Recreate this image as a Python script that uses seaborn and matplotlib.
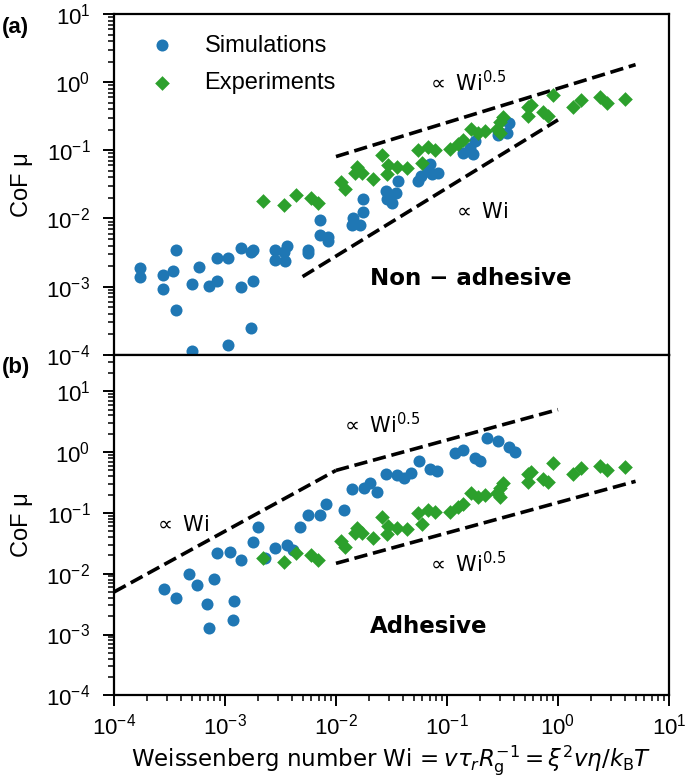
import numpy as np
import pandas as pd
import seaborn as sns
import matplotlib.pyplot as plt

# Simulations, non-adhesive (panel a)
sim_na_wi = [1.7e-4, 1.7e-4, 2.75e-4, 3.4e-4, 2.75e-4, 3.6e-4, 3.6e-4, 5.0e-4, 5.8e-4, 5.0e-4,
             7.2e-4, 8.5e-4, 8.5e-4, 1.07e-3, 1.07e-3, 1.38e-3, 1.38e-3, 1.7e-3, 1.8e-3, 1.8e-3,
             1.7e-3, 2.8e-3, 2.8e-3, 3.5e-3, 3.6e-3, 3.4e-3, 5.6e-3, 5.6e-3, 7.2e-3, 7.2e-3,
             8.5e-3, 8.5e-3, 0.0142, 0.0164, 0.014, 0.0175, 0.0175, 0.029, 0.032, 0.028,
             0.035, 0.036, 0.055, 0.058, 0.071, 0.074, 0.083, 0.068, 0.14, 0.17,
             0.18, 0.16, 0.29, 0.35, 0.36, 0.29]
sim_na_mu = [1.9e-3, 1.4e-3, 1.5e-3, 1.7e-3, 9.1e-4, 3.5e-3, 4.5e-4, 1.1e-3, 1.95e-3, 1.15e-4,
             1.02e-3, 1.2e-3, 2.6e-3, 2.6e-3, 1.4e-4, 3.7e-3, 9.8e-4, 3.2e-3, 3.5e-3, 1.2e-3,
             2.5e-4, 3.5e-3, 2.45e-3, 2.35e-3, 4.0e-3, 3.2e-3, 3.5e-3, 3.1e-3, 9.5e-3, 5.8e-3,
             5.4e-3, 4.6e-3, 0.010, 8.1e-3, 8.1e-3, 0.0126, 0.019, 0.0195, 0.0166, 0.025,
             0.0234, 0.035, 0.035, 0.042, 0.063, 0.045, 0.046, 0.049, 0.091, 0.087,
             0.138, 0.107, 0.19, 0.18, 0.25, 0.17]

# Simulations, adhesive (panel b)
sim_ad_wi = [2.8e-4, 3.6e-4, 4.7e-4, 5.6e-4, 7.9e-4, 6.9e-4, 7.2e-4, 1.2e-3, 1.17e-3, 8.5e-4,
             1.1e-3, 1.4e-3, 1.8e-3, 2.0e-3, 2.3e-3, 2.8e-3, 3.6e-3, 4.1e-3, 4.7e-3, 5.6e-3,
             7.2e-3, 8.1e-3, 0.0117, 0.0138, 0.0178, 0.0204, 0.0234, 0.028, 0.0355, 0.041,
             0.047, 0.056, 0.071, 0.081, 0.117, 0.14, 0.18, 0.20, 0.23, 0.29,
             0.36, 0.41]
sim_ad_mu = [5.5e-3, 4.0e-3, 9.8e-3, 6.5e-3, 8.1e-3, 3.2e-3, 1.3e-3, 3.5e-3, 1.7e-3, 0.022,
             0.0224, 0.0166, 0.033, 0.058, 0.0178, 0.026, 0.0295, 0.025, 0.058, 0.091,
             0.093, 0.138, 0.112, 0.25, 0.26, 0.31, 0.22, 0.44, 0.42, 0.37,
             0.45, 0.71, 0.52, 0.48, 0.95, 1.07, 0.79, 0.71, 1.7, 1.55,
             1.2, 1.02]

# Experiments (same in both panels)
exp_wi = [2.2e-3, 3.4e-3, 4.4e-3, 5.9e-3, 6.9e-3, 0.011, 0.012, 0.0155, 0.017, 0.0148,
          0.0214, 0.026, 0.0295, 0.029, 0.0355, 0.044, 0.055, 0.068, 0.078, 0.059,
          0.107, 0.126, 0.138, 0.166, 0.19, 0.22, 0.28, 0.30, 0.32, 0.30,
          0.54, 0.575, 0.54, 0.74, 0.81, 0.91, 1.38, 1.6, 2.4, 2.75, 4.0]
exp_mu = [0.018, 0.0155, 0.022, 0.020, 0.0166, 0.034, 0.027, 0.056, 0.046, 0.046,
          0.038, 0.085, 0.060, 0.045, 0.056, 0.055, 0.10, 0.112, 0.102, 0.066,
          0.105, 0.123, 0.141, 0.209, 0.182, 0.195, 0.209, 0.26, 0.31, 0.182,
          0.44, 0.47, 0.32, 0.36, 0.32, 0.65, 0.44, 0.54, 0.60, 0.50, 0.575]

sns.set_style('ticks')
plt.rcParams['font.family'] = ['Liberation Sans', 'DejaVu Sans']
plt.rcParams['mathtext.fontset'] = 'dejavusans'
plt.rcParams['axes.edgecolor'] = 'black'
plt.rcParams['text.color'] = 'black'
plt.rcParams['xtick.color'] = 'black'
plt.rcParams['ytick.color'] = 'black'
plt.rcParams['axes.labelcolor'] = 'black'

blue = '#1f77b4'
green = '#2ca02c'

fig, axes = plt.subplots(2, 1, sharex=True, figsize=(6.85, 7.83), dpi=100)
plt.subplots_adjust(left=0.1664, right=0.9766, top=0.982, bottom=0.112, hspace=0)

sims = [(sim_na_wi, sim_na_mu), (sim_ad_wi, sim_ad_mu)]
for i, ax in enumerate(axes):
    sims_df = pd.DataFrame({'Wi': sims[i][0], 'mu': sims[i][1]})
    exp_df = pd.DataFrame({'Wi': exp_wi, 'mu': exp_mu})
    sns.scatterplot(data=sims_df, x='Wi', y='mu', ax=ax, color=blue, marker='o',
                    s=75, linewidth=0, label='Simulations', zorder=3)
    sns.scatterplot(data=exp_df, x='Wi', y='mu', ax=ax, color=green, marker='D',
                    s=56, linewidth=0, label='Experiments', zorder=3)
    ax.set_xscale('log')
    ax.set_yscale('log')
    ax.set_xlim(1e-4, 1e1)
    ax.set_ylabel('CoF μ', fontsize=17)
    ax.set_xlabel('')
    for sp in ax.spines.values():
        sp.set_linewidth(1.6)
    ax.tick_params(which='major', length=8, width=1.4, labelsize=16)
    ax.tick_params(which='minor', length=4.5, width=1.1)
    ax.tick_params(axis='y', which='major', pad=9)
    ax.tick_params(axis='x', which='major', pad=5)

ax1, ax2 = axes
ax1.set_ylim(1e-4, 1e1)
ax2.set_ylim(1e-4, 40)
ax1.tick_params(axis='x', which='both', bottom=False, labelbottom=False)
ax1.yaxis.set_label_coords(-0.146, 0.5)
ax2.yaxis.set_label_coords(-0.146, 0.5)

ax1.legend(loc='upper left', frameon=False, fontsize=17,
           handletextpad=0.8, labelspacing=0.66, borderaxespad=0.4,
           bbox_to_anchor=(0.01, 0.995))
ax2.get_legend().remove()

# power-law guides
lw = 2.6
x = np.array([0.01, 5])
ax1.plot(x, 0.81 * np.sqrt(x), 'k--', lw=lw)
x = np.array([0.005, 1])
ax1.plot(x, 0.28 * x, 'k--', lw=lw)
x = np.array([1e-4, 0.01])
ax2.plot(x, 50 * x, 'k--', lw=lw)
x = np.array([0.01, 1])
ax2.plot(x, 5 * np.sqrt(x), 'k--', lw=lw)
x = np.array([0.01, 5])
ax2.plot(x, 0.148 * np.sqrt(x), 'k--', lw=lw)

dv = ['DejaVu Sans']
ax1.text(0.065, 1.0, r'$\propto$ Wi$^{0.5}$', fontsize=15, family=dv, va='center')
ax1.text(0.11, 0.0126, r'$\propto$ Wi', fontsize=15, family=dv, va='center')
ax1.text(0.0204, 1.3e-3, 'Non − adhesive', fontsize=16.5, family=dv,
         fontweight='bold', va='center')
ax2.text(2.25e-4, 0.063, r'$\propto$ Wi', fontsize=15, family=dv, va='center')
ax2.text(0.0108, 2.8, r'$\propto$ Wi$^{0.5}$', fontsize=15, family=dv, va='center')
ax2.text(0.065, 0.0148, r'$\propto$ Wi$^{0.5}$', fontsize=15, family=dv, va='center')
ax2.text(0.0204, 1.34e-3, 'Adhesive', fontsize=16.5, family=dv,
         fontweight='bold', va='center')

fig.text(0.003, 0.965, '(a)', fontsize=16, fontweight='bold', va='center')
fig.text(0.003, 0.531, '(b)', fontsize=16, fontweight='bold', va='center')

ax2.set_xlabel(r'Weissenberg number Wi$\,=v\tau_r R_{\rm g}^{-1}=\xi^2 v\eta/k_{\rm B}T$',
               fontsize=16.5, family=dv, labelpad=3)

fig.savefig('out.png', dpi=100)
